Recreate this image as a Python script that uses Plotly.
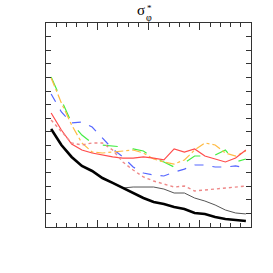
import plotly.graph_objects as go

x_bins = [i + 0.5 for i in range(20)]

black_thick = [7.21, 6.03, 5.15, 4.49, 4.12, 3.60, 3.24, 2.87, 2.50, 2.13,
               1.84, 1.69, 1.47, 1.32, 1.03, 0.96, 0.74, 0.59, 0.51, 0.44]
gray_thin = [7.21, 6.03, 5.15, 4.49, 4.12, 3.60, 3.24, 2.87, 2.94, 2.94,
             2.94, 2.79, 2.50, 2.50, 2.13, 1.91, 1.62, 1.25, 1.03, 0.96]
red_solid = [8.38, 7.13, 6.10, 5.66, 5.44, 5.29, 5.15, 5.07, 5.07, 5.15,
             5.07, 4.93, 5.74, 5.51, 5.74, 5.22, 5.00, 4.78, 5.07, 5.66]
green_ld = [11.03, 9.34, 7.65, 6.76, 6.18, 6.03, 5.96, 5.88, 5.74, 5.59,
            5.07, 4.78, 4.41, 4.71, 5.22, 5.22, 5.29, 5.66, 4.78, 5.00]
orange_dd = [10.96, 9.12, 7.50, 6.18, 5.51, 5.44, 5.51, 5.59, 5.66, 5.44,
             5.00, 4.78, 4.63, 4.93, 5.66, 6.18, 6.03, 5.44, 5.22, 5.59]
blue_dash = [9.78, 8.46, 7.65, 7.72, 7.35, 6.54, 5.74, 5.15, 4.41, 3.97,
             3.82, 3.75, 4.04, 4.26, 4.56, 4.56, 4.41, 4.41, 4.49, 4.34]
pink_dot = [7.87, 7.06, 6.18, 6.03, 6.18, 6.18, 5.66, 4.78, 4.19, 3.68,
            3.38, 3.16, 2.94, 3.01, 2.65, 2.72, 2.79, 2.87, 2.94, 3.01]

series = [
    (blue_dash, "#5566ff", 1.2, "dash"),
    (green_ld, "#44ee44", 1.2, "longdash"),
    (orange_dd, "#ffbb44", 1.2, "dashdot"),
    (red_solid, "#ff4c4c", 1.2, "solid"),
    (pink_dot, "#ee8888", 1.4, "dot"),
    (gray_thin, "#555555", 1.0, "solid"),
    (black_thick, "#000000", 2.6, "solid"),
]

fig = go.Figure()
for ys, col, w, dash in series:
    fig.add_trace(go.Scatter(x=x_bins, y=ys, mode="lines",
                             line=dict(color=col, width=w, dash=dash),
                             showlegend=False, hoverinfo="skip"))

serif = "Liberation Serif"
fig.add_annotation(text="σ", xref="paper", yref="paper", x=0.465, y=1.066,
                   xanchor="center", yanchor="middle", showarrow=False,
                   font=dict(family=serif, size=15, color="black"))
fig.add_annotation(text="*", xref="paper", yref="paper", x=0.503, y=1.072,
                   xanchor="center", yanchor="middle", showarrow=False,
                   font=dict(family=serif, size=9, color="black"))
fig.add_annotation(text="φ", xref="paper", yref="paper", x=0.503, y=1.025,
                   xanchor="center", yanchor="middle", showarrow=False,
                   font=dict(family=serif, size=10, color="black"))

fig.update_layout(
    width=273, height=273,
    margin=dict(l=46, r=22, t=23, b=46),
    paper_bgcolor="white", plot_bgcolor="white",
)
fig.update_xaxes(range=[0, 20], showgrid=False, zeroline=False,
                 showline=True, linecolor="#333", linewidth=1, mirror="allticks",
                 ticks="inside", dtick=5, tick0=0, ticklen=7, tickcolor="#333",
                 showticklabels=False,
                 minor=dict(ticks="inside", dtick=1, ticklen=4, tickcolor="#333", showgrid=False))
fig.update_yaxes(range=[0, 15], showgrid=False, zeroline=False,
                 showline=True, linecolor="#333", linewidth=1, mirror="allticks",
                 ticks="inside", dtick=1, tick0=0, ticklen=5, tickcolor="#333",
                 showticklabels=False)

fig.write_html("out.html", config={"displayModeBar": False},
               post_script="document.body.style.margin='0';")
